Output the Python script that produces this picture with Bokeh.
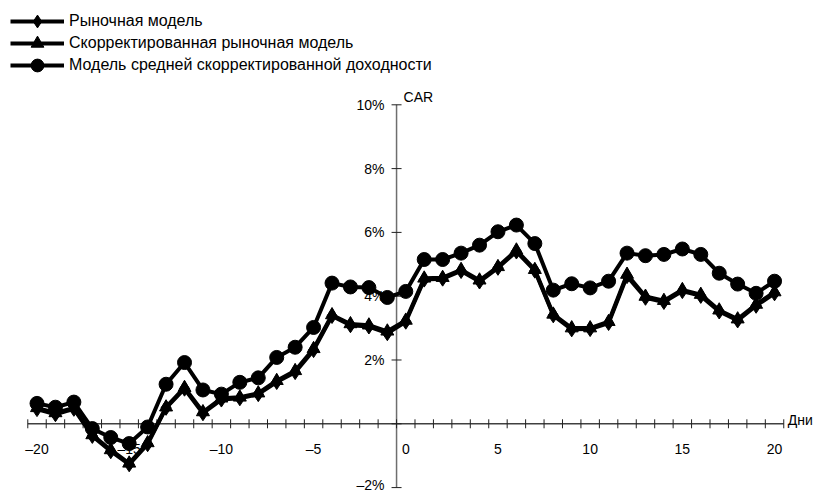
from bokeh.plotting import figure
from bokeh.models import Range1d, Legend, LegendItem, ColumnDataSource
from bokeh.core.properties import value
from bokeh.embed import file_html
from bokeh.resources import INLINE

days = list(range(-20, 21))

market = [0.46, 0.30, 0.47, -0.38, -0.86, -1.27, -0.64, 0.50, 1.10, 0.33,
          0.76, 0.80, 0.93, 1.31, 1.62, 2.31, 3.38, 3.09, 3.05, 2.84,
          3.20, 4.52, 4.55, 4.79, 4.46, 4.89, 5.40, 4.80, 3.40, 2.96,
          2.97, 3.16, 4.63, 3.95, 3.82, 4.16, 4.01, 3.52, 3.24, 3.70, 4.09]

adj_market = [0.50, 0.34, 0.50, -0.35, -0.82, -1.24, -0.60, 0.52, 1.13, 0.37,
              0.80, 0.83, 0.96, 1.35, 1.66, 2.35, 3.41, 3.13, 3.09, 2.90,
              3.24, 4.56, 4.58, 4.83, 4.50, 4.92, 5.44, 4.83, 3.43, 3.00,
              3.00, 3.20, 4.68, 3.99, 3.86, 4.20, 4.05, 3.56, 3.28, 3.74, 4.13]

mean_adj = [0.64, 0.52, 0.68, -0.15, -0.43, -0.62, -0.10, 1.24, 1.92, 1.06,
            0.93, 1.30, 1.44, 2.08, 2.40, 3.02, 4.41, 4.29, 4.27, 3.96,
            4.15, 5.15, 5.15, 5.35, 5.60, 6.02, 6.23, 5.65, 4.19, 4.39,
            4.26, 4.47, 5.35, 5.27, 5.31, 5.48, 5.31, 4.72, 4.38, 4.09, 4.47]

series_names = ["Рыночная модель",
                "Скорректированная рыночная модель",
                "Модель средней скорректированной доходности"]

x_tick_vals = [-20, -15, -10, -5, 0, 5, 10, 15, 20]
x_tick_text = ["–20", "–15", "–10", "–5", "0", "5", "10", "15", "20"]
y_tick_vals = [-2, 2, 4, 6, 8, 10]
y_tick_text = ["–2%", "2%", "4%", "6%", "8%", "10%"]
y_tick_marks = [-2, 0, 2, 4, 6, 8, 10]
x_title = "Дни"
y_title = "CAR"

FONT = value("Liberation Sans")
FS = "14px"

W, H = 817, 492
p = figure(width=W, height=H, min_border=0, toolbar_location=None,
           output_backend="svg", x_axis_type=None, y_axis_type=None,
           x_range=Range1d(-21.98, 22.33), y_range=Range1d(-2.154, 13.27))
p.outline_line_color = None
p.xgrid.visible = False
p.ygrid.visible = False
p.background_fill_color = "white"

# axes
x_cross = -0.5
p.segment(x0=[x_cross], y0=[y_tick_marks[0]], x1=[x_cross], y1=[y_tick_marks[-1]],
          line_color="#6e6e6e", line_width=1.5)
p.segment(x0=[days[0] - 0.5], y0=[0], x1=[days[-1] + 0.5], y1=[0],
          line_color="#404040", line_width=1.5)
xb = [d - 0.5 for d in days] + [days[-1] + 0.5]
p.scatter(x=xb, y=[0] * len(xb), marker="dash", size=9, angle=1.5708,
          line_color="#202020", line_width=1)
p.scatter(x=[x_cross] * len(y_tick_marks), y=y_tick_marks, marker="dash", size=10,
          line_color="#202020", line_width=1)

p.text(x=x_tick_vals, y=[0] * len(x_tick_vals), text=x_tick_text,
       text_align="center", text_baseline="middle", y_offset=25,
       text_font=FONT, text_font_size=FS, text_color="black")
ty = [v + (0.07 if v == -2 else 0) for v in y_tick_vals]
p.text(x=[x_cross] * len(y_tick_vals), y=ty, text=y_tick_text,
       text_align="right", text_baseline="middle", x_offset=-12,
       text_font=FONT, text_font_size=FS, text_color="black")
p.text(x=[x_cross], y=[y_tick_marks[-1]], text=[y_title], text_align="left",
       text_baseline="middle", x_offset=7, y_offset=-8,
       text_font=FONT, text_font_size=FS, text_color="black")
p.text(x=[days[-1] + 0.5], y=[0], text=[x_title], text_align="left",
       text_baseline="middle", x_offset=4, y_offset=-4,
       text_font=FONT, text_font_size=FS, text_color="black")

# series
LW = 4
specs = [(market, "diamond", 15), (adj_market, "triangle", 13), (mean_adj, "circle", 14)]
row_centers = [21, 43, 65]
for (vals, mk, sz), name, rc in zip(specs, series_names, row_centers):
    src = ColumnDataSource(dict(x=days, y=vals))
    r1 = p.line("x", "y", source=src, line_color="black", line_width=LW)
    r2 = p.scatter("x", "y", source=src, marker=mk, size=sz,
                   fill_color="black", line_color="black")
    lg = Legend(items=[LegendItem(label=name, renderers=[r1, r2])],
                location=(10, H - rc - 16), orientation="vertical",
                glyph_width=54, glyph_height=32, label_height=20, spacing=0,
                padding=0, margin=0, label_standoff=5,
                border_line_color=None, background_fill_alpha=0,
                label_text_font="Liberation Sans", label_text_font_size="16px",
                label_text_color="black")
    p.add_layout(lg)

open("out.html", "w").write(file_html(p, INLINE))
